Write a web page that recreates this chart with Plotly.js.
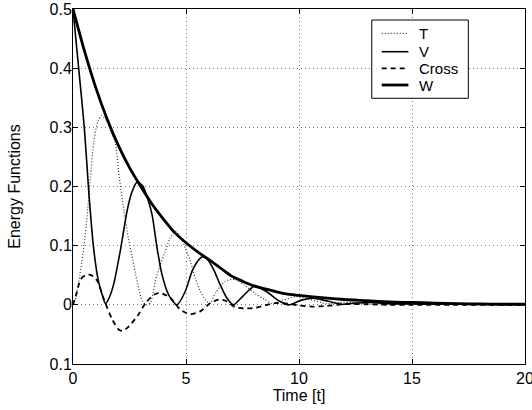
<!DOCTYPE html>
<html>
<head>
<meta charset="utf-8">
<script src="https://cdn.plot.ly/plotly-3.0.1.min.js"></script>
<style>html,body{margin:0;padding:0;background:#fff;}#chart{width:532px;height:410px;}</style>
</head>
<body>
<div id="chart"></div>
<script>
// Time samples and values
const tW = [0, 0.5, 1, 1.5, 2, 2.5, 3, 3.5, 4, 4.5, 5, 5.5, 6, 6.5, 7, 7.5, 8, 8.5, 9, 9.5, 10, 11, 12, 13, 14, 15, 16, 17, 18, 19, 20];
const W = [0.5, 0.43, 0.368, 0.315, 0.27, 0.232, 0.2, 0.17, 0.145, 0.122, 0.105, 0.09, 0.077, 0.063, 0.049, 0.04, 0.032, 0.027, 0.022, 0.018, 0.016, 0.012, 0.009, 0.007, 0.005, 0.004, 0.003, 0.002, 0.0015, 0.001, 0.001];

const tV = [0, 0.25, 0.5, 0.7, 0.9, 1.1, 1.25, 1.44, 1.6, 1.8, 2.1, 2.4, 2.6, 2.85, 3.1, 3.3, 3.5, 3.72, 3.94, 4.23, 4.6, 4.97, 5.27, 5.5, 5.72, 5.95, 6.22, 6.5, 6.8, 7.1, 7.5, 8.0, 8.3, 8.65, 9.1, 9.55, 10.1, 10.7, 11.3, 11.9, 12.5, 13.2, 14, 15, 16, 18, 20];
const V = [0.5, 0.4, 0.3, 0.19, 0.1, 0.045, 0.022, 0.002, 0.012, 0.035, 0.093, 0.16, 0.19, 0.208, 0.2, 0.18, 0.152, 0.096, 0.051, 0.017, 0.0, 0.023, 0.057, 0.073, 0.081, 0.077, 0.06, 0.035, 0.012, 0.0, 0.014, 0.031, 0.028, 0.02, 0.007, 0.0, 0.008, 0.011, 0.006, 0.001, 0.003, 0.004, 0.002, 0.0015, 0.001, 0.0008, 0.0005];

const tT = [0, 0.15, 0.3, 0.45, 0.6, 0.77, 0.92, 1.1, 1.28, 1.5, 1.7, 1.87, 2.05, 2.25, 2.45, 2.6, 2.75, 2.92, 3.07, 3.25, 3.42, 3.64, 3.86, 4.08, 4.3, 4.53, 4.75, 4.97, 5.19, 5.41, 5.63, 5.85, 6.05, 6.3, 6.74, 7.18, 7.6, 8.1, 8.5, 8.8, 9.3, 9.9, 10.5, 11.2, 11.8, 12.5, 13.2, 14, 15, 17, 20];
const T = [0, 0.015, 0.05, 0.088, 0.14, 0.215, 0.275, 0.31, 0.32, 0.31, 0.29, 0.275, 0.215, 0.16, 0.112, 0.085, 0.055, 0.026, 0.006, 0.0, 0.003, 0.04, 0.068, 0.09, 0.113, 0.124, 0.115, 0.096, 0.074, 0.045, 0.023, 0.009, 0.002, 0.02, 0.04, 0.043, 0.033, 0.018, 0.009, 0.002, 0.008, 0.014, 0.009, 0.002, 0.004, 0.004, 0.001, 0.0015, 0.001, 0.0008, 0.0005];

const tC = [0, 0.12, 0.34, 0.55, 0.72, 0.9, 1.08, 1.37, 1.74, 2.03, 2.2, 2.4, 2.85, 3.21, 3.57, 3.86, 4.3, 4.75, 5.19, 5.63, 6.08, 6.45, 6.8, 7.18, 7.7, 8.1, 8.5, 8.95, 9.5, 10, 10.6, 11.2, 12, 13, 14, 15, 20];
const C = [0, 0.0145, 0.043, 0.05, 0.051, 0.048, 0.04, 0.009, -0.025, -0.042, -0.044, -0.039, -0.019, 0.003, 0.017, 0.02, 0.012, -0.008, -0.016, -0.011, 0.003, 0.009, 0.006, -0.004, -0.006, -0.005, -0.001, 0.003, 0.002, -0.001, -0.003, -0.002, 0.001, 0.001, 0, 0, 0];

const seriesNames = ['T', 'V', 'Cross', 'W'];
const xTicks = [0, 5, 10, 15, 20];
const yTicks = [-0.1, 0, 0.1, 0.2, 0.3, 0.4, 0.5];
const yTickText = ['0.1', '0', '0.1', '0.2', '0.3', '0.4', '0.5'];

const FONT = 'Liberation Sans, Arial, Helvetica, sans-serif';

const lineStyles = [
  {color: '#333', width: 1.2, dash: '1px,2px'},
  {color: '#000', width: 1.6, dash: 'solid'},
  {color: '#000', width: 1.8, dash: '5px,4px'},
  {color: '#000', width: 2.8, dash: 'solid'}
];
const xs = [tT, tV, tC, tW];
const ys = [T, V, C, W];

const traces = seriesNames.map((n, i) => ({
  x: xs[i], y: ys[i], name: n, mode: 'lines', showlegend: false,
  line: Object.assign({shape: 'spline', smoothing: 0.7}, lineStyles[i])
}));

// Boxed legend in the upper right (MATLAB style)
const L = {x0: 0.661, x1: 0.8746, yTop: 0.969, yBot: 0.7485, sx0: 0.683, sx1: 0.742, tx: 0.7604,
           rows: [0.9315, 0.8797, 0.8330, 0.7859]};
const shapes = [{type: 'rect', xref: 'paper', yref: 'paper', x0: L.x0, x1: L.x1, y0: L.yBot, y1: L.yTop,
                 line: {color: '#000', width: 1}, fillcolor: '#fff', layer: 'above'}];
const annotations = [];
seriesNames.forEach((n, i) => {
  shapes.push({type: 'line', xref: 'paper', yref: 'paper', x0: L.sx0, x1: L.sx1, y0: L.rows[i], y1: L.rows[i],
               line: lineStyles[i], layer: 'above'});
  annotations.push({xref: 'paper', yref: 'paper', x: L.tx, y: L.rows[i], xanchor: 'left', yanchor: 'middle',
                    text: n, showarrow: false, font: {family: FONT, size: 15, color: '#000'}});
});

const axisCommon = {
  showline: true, linecolor: '#000', linewidth: 1, mirror: 'ticks',
  ticks: 'inside', ticklen: 5, tickcolor: '#000', tickwidth: 1,
  showgrid: true, gridcolor: '#777', gridwidth: 1, griddash: '1px,3px',
  zeroline: false, ticklabeloverflow: 'allow',
  tickfont: {family: FONT, size: 16, color: '#000'}
};

const layout = {
  width: 532, height: 410,
  margin: {l: 73, r: 7, t: 9, b: 46},
  paper_bgcolor: '#fff', plot_bgcolor: '#fff',
  font: {family: FONT, size: 15, color: '#000'},
  showlegend: false,
  shapes: shapes,
  annotations: annotations,
  xaxis: Object.assign({}, axisCommon, {
    range: [0, 20], tickvals: xTicks, ticktext: xTicks.map(String),
    title: {text: 'Time [t]', font: {family: FONT, size: 16, color: '#000'}, standoff: 1}
  }),
  yaxis: Object.assign({}, axisCommon, {
    range: [-0.1, 0.5], tickvals: yTicks, ticktext: yTickText, ticklabelstandoff: -3,
    title: {text: 'Energy Functions', font: {family: FONT, size: 16, color: '#000'}, standoff: 24}
  })
};

Plotly.newPlot('chart', traces, layout, {staticPlot: true, displayModeBar: false});
</script>
</body>
</html>
